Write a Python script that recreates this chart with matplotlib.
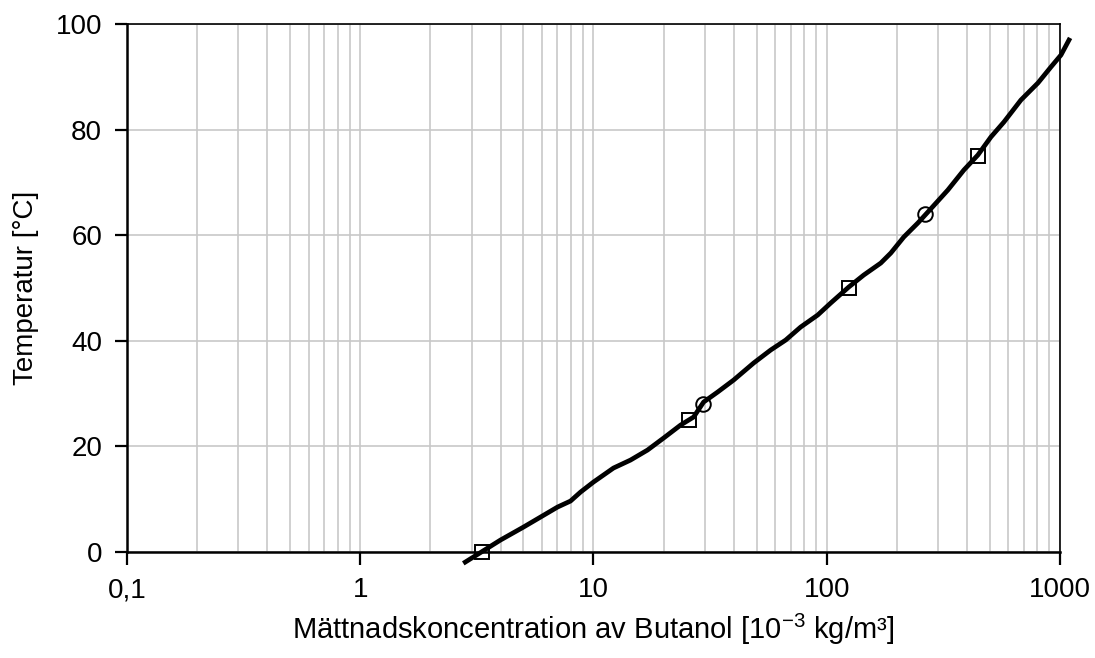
#!/usr/bin/env python3
import numpy as np
import matplotlib.pyplot as plt
from matplotlib.ticker import FixedLocator, FixedFormatter, LogLocator, NullFormatter

plt.rcParams['font.family'] = ['Liberation Sans', 'DejaVu Sans']
plt.rcParams['mathtext.fontset'] = 'custom'
plt.rcParams['mathtext.rm'] = 'Liberation Sans'
plt.rcParams['mathtext.default'] = 'regular'

# saturation curve
conc = [2.82, 3.99, 5.01, 5.93, 7.01, 7.97, 8.80, 10.0, 12.18, 14.41, 17.05,
        19.98, 23.63, 26.87, 29.66, 34.06, 39.9, 48.6, 57.5, 66.7, 77.3, 91.5,
        104.0, 124.3, 144.1, 170.5, 188.3, 214.0, 245.8, 271.4, 330.6, 387.3,
        444.7, 505.7, 575.1, 680.2, 804.5, 914.6, 1010.0, 1093.0]
temp = [-1.9, 2.27, 4.73, 6.63, 8.52, 9.66, 11.36, 13.26, 15.91, 17.42, 19.32,
        21.59, 24.05, 25.57, 28.41, 30.30, 32.58, 35.80, 38.26, 40.15, 42.61, 44.89,
        47.16, 50.19, 52.46, 54.73, 56.63, 59.66, 62.31, 64.39, 68.56, 72.35,
        75.19, 78.60, 81.44, 85.61, 88.83, 91.86, 94.13, 96.97]

# measured points
sq_conc = [3.34, 25.6, 124.0, 444.0]
sq_temp = [0, 25, 50, 75]
circ_conc = [29.4, 263.0]
circ_temp = [28, 64]

xticks = [0.1, 1, 10, 100, 1000]
xlabels = ["0,1", "1", "10", "100", "1000"]
yticks = [0, 20, 40, 60, 80, 100]

fig = plt.figure(figsize=(10.95, 6.58), dpi=100)
ax = fig.add_axes([0.116, 0.161, 0.852, 0.8025])

ax.plot(conc, temp, color='black', lw=3.4, clip_on=False, zorder=3)
ax.plot(sq_conc, sq_temp, 's', ms=10.5, mfc='none', mec='black', mew=1.4, zorder=4, clip_on=False)
ax.plot(circ_conc, circ_temp, 'o', ms=10.5, mfc='none', mec='black', mew=1.4, zorder=4)

ax.set_xscale('log')
ax.set_xlim(0.1, 1000)
ax.set_ylim(0, 100)
ax.xaxis.set_major_locator(FixedLocator(xticks))
ax.xaxis.set_major_formatter(FixedFormatter(xlabels))
ax.xaxis.set_minor_locator(LogLocator(base=10, subs=np.arange(2, 10)))
ax.xaxis.set_minor_formatter(NullFormatter())
ax.set_yticks(yticks)

ax.grid(True, which='both', axis='x', color='#c8c8c8', lw=1.2)
ax.grid(True, which='major', axis='y', color='#c8c8c8', lw=1.2)
ax.set_axisbelow(True)

ax.tick_params(axis='both', which='major', direction='out', length=9, width=1.6,
               labelsize=20, pad=9, colors='black')
ax.tick_params(axis='x', which='minor', length=0)
for s in ['left', 'bottom']:
    ax.spines[s].set_linewidth(1.8)
for s in ['top', 'right']:
    ax.spines[s].set_linewidth(1.2)

ax.set_xlabel("Mättnadskoncentration av Butanol [10$^{-3}$ kg/m³]", fontsize=21, labelpad=6)
ax.set_ylabel("Temperatur [°C]", fontsize=20, labelpad=12)

fig.savefig("out.png", dpi=100)
